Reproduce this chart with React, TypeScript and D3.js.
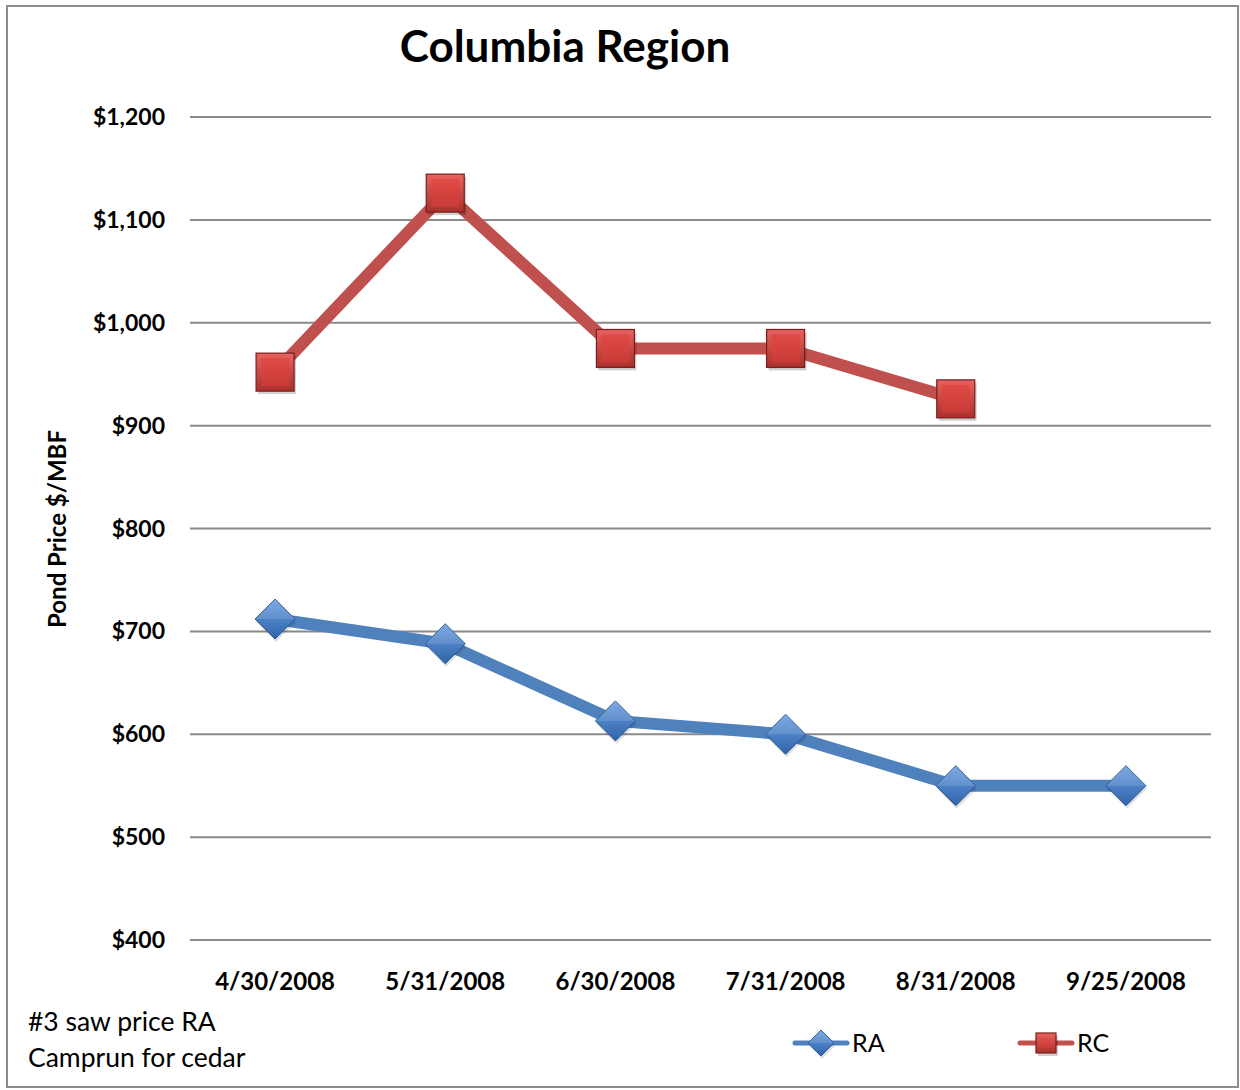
import React from "react";
import * as d3 from "d3";

const categories = ["4/30/2008", "5/31/2008", "6/30/2008", "7/31/2008", "8/31/2008", "9/25/2008"];
const raValues: (number | null)[] = [712, 688, 613, 600, 550, 550];
const rcValues: (number | null)[] = [952, 1126, 975, 975, 926, null];
const yTicks = [400, 500, 600, 700, 800, 900, 1000, 1100, 1200];
const footnotes = ["#3 saw price RA", "Camprun for cedar"];

const W = 1240, H = 1090;
const FONT = "Lato, 'Open Sans', sans-serif";

export default function App() {
  const x = d3.scaleBand<string>().domain(categories).range([190, 1211]);
  const y = d3.scaleLinear().domain([400, 1200]).range([940, 117]);
  const cx = (c: string) => (x(c) as number) + x.bandwidth() / 2;
  const fmt = (v: number) => "$" + d3.format(",")(v);

  const line = d3
    .line<[string, number | null]>()
    .defined((d) => d[1] != null)
    .x((d) => cx(d[0]))
    .y((d) => y(d[1] as number));

  const raPts = categories.map((c, i) => [c, raValues[i]] as [string, number | null]);
  const rcPts = categories.map((c, i) => [c, rcValues[i]] as [string, number | null]);

  const square = (px: number, py: number, s: number, key: string) => (
    <g key={key}>
      <rect x={px - s / 2 + 2} y={py - s / 2 + 3} width={s} height={s} fill="rgba(0,0,0,0.18)" />
      <rect x={px - s / 2} y={py - s / 2} width={s} height={s} fill="url(#rcGrad)" stroke="#7a1e1c" strokeWidth={1.2} />
      <rect x={px - s / 2 + 5} y={py - s / 2 + 5} width={s - 10} height={s - 10} fill="url(#rcInner)" />
    </g>
  );
  const diamond = (px: number, py: number, r: number, key: string) => (
    <g key={key}>
      <path d={`M${px + 1},${py - r + 3}L${px + r + 1},${py + 3}L${px + 1},${py + r + 3}L${px - r + 1},${py + 3}Z`} fill="rgba(0,0,0,0.12)" />
      <path d={`M${px},${py - r}L${px + r},${py}L${px},${py + r}L${px - r},${py}Z`} fill="url(#raGrad)" stroke="#2c5a94" strokeWidth={1} />
      <path d={`M${px},${py - r}L${px + r},${py}L${px - r},${py}Z`} fill="rgba(255,255,255,0.12)" />
    </g>
  );

  return (
    <svg width={W} height={H} style={{ position: "absolute", left: 0, top: 0 }} fontFamily={FONT}>
      <defs>
        <linearGradient id="rcGrad" x1="0" y1="0" x2="0" y2="1">
          <stop offset="0" stopColor="#e8625e" />
          <stop offset="1" stopColor="#a8302c" />
        </linearGradient>
        <linearGradient id="rcInner" x1="0" y1="0" x2="0" y2="1">
          <stop offset="0" stopColor="#e04a46" />
          <stop offset="1" stopColor="#c93b37" />
        </linearGradient>
        <linearGradient id="raGrad" x1="0" y1="0" x2="0" y2="1">
          <stop offset="0" stopColor="#6a9ee0" />
          <stop offset="1" stopColor="#2f64aa" />
        </linearGradient>
      </defs>
      <rect x={0} y={0} width={W} height={H} fill="#fff" />
      <rect x={7} y={6} width={1231} height={1081} fill="none" stroke="#8c8c8c" strokeWidth={2} />

      <text x={565} y={62} textAnchor="middle" fontSize={44} fontWeight="bold" fill="#000">Columbia Region</text>

      {yTicks.map((t) => (
        <g key={t}>
          <line x1={190} x2={1211} y1={y(t)} y2={y(t)} stroke="#8a8a8a" strokeWidth={2} />
          <text x={165} y={y(t) + 8} textAnchor="end" fontSize={23} fontWeight="bold" fill="#000">{fmt(t)}</text>
        </g>
      ))}

      {categories.map((c) => (
        <text key={c} x={cx(c)} y={990} textAnchor="middle" fontSize={24} fontWeight="bold" fill="#000">{c}</text>
      ))}

      <text transform={`translate(66,529) rotate(-90)`} textAnchor="middle" fontSize={24} fontWeight="bold" fill="#000">Pond Price $/MBF</text>

      <path d={line(rcPts) as string} fill="none" stroke="#c0504d" strokeWidth={12} strokeLinejoin="round" />
      <path d={line(raPts) as string} fill="none" stroke="#4f81bd" strokeWidth={12} strokeLinejoin="round" />

      {rcPts.filter((d) => d[1] != null).map((d) => square(cx(d[0]), y(d[1] as number), 38, "s" + d[0]))}
      {raPts.filter((d) => d[1] != null).map((d) => diamond(cx(d[0]), y(d[1] as number), 20, "d" + d[0]))}

      {footnotes.map((f, i) => (
        <text key={f} x={28} y={1031 + i * 36} fontSize={26.5} fill="#000">{f}</text>
      ))}

      <g>
        <line x1={795} x2={847} y1={1043} y2={1043} stroke="#4f81bd" strokeWidth={5} strokeLinecap="round" />
        {diamond(821, 1043, 13, "legRA")}
        <text x={852} y={1052} fontSize={25} fill="#000">RA</text>
        <line x1={1020} x2={1072} y1={1043} y2={1043} stroke="#c0504d" strokeWidth={5} strokeLinecap="round" />
        {square(1046, 1043, 20, "legRC")}
        <text x={1077} y={1052} fontSize={25} fill="#000">RC</text>
      </g>
    </svg>
  );
}
